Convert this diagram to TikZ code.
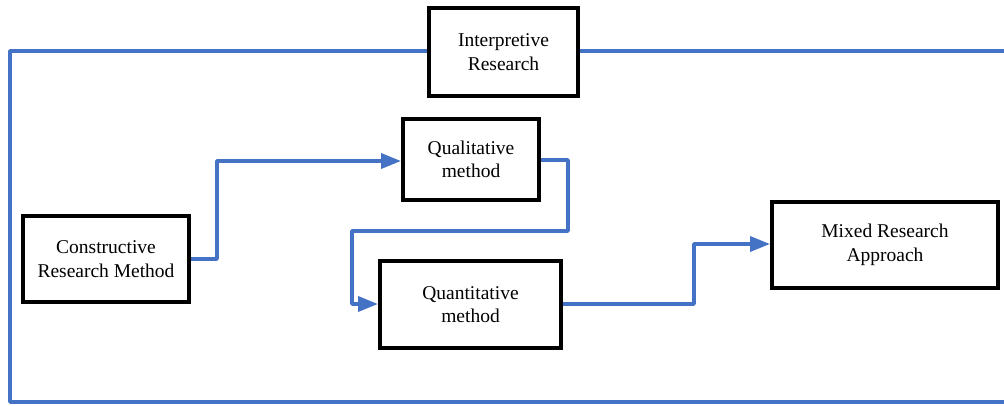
\documentclass[tikz,border=0pt]{standalone}
\usepackage{fontspec}
\setmainfont{Liberation Serif}
\usetikzlibrary{arrows.meta}
\definecolor{flowblue}{HTML}{4472C4}
\tikzset{
  stage/.style={draw=black, line width=4pt, fill=white, align=center, inner sep=0pt,
    font=\fontsize{19.5}{23.5}\selectfont},
  flow/.style={draw=flowblue, line width=3.6pt, line join=round},
  flowarrow/.style={flow, -{Triangle[length=20pt, width=15pt]}},
}
\begin{document}
\begin{tikzpicture}[x=1pt, y=-1pt]
  \useasboundingbox (0,0) rectangle (1004,405);
  % stage boxes
  \node[stage, minimum width=149pt, minimum height=88pt] (interp) at (503.5,52) {Interpretive\\Research};
  \node[stage, minimum width=136pt, minimum height=81pt] (qual) at (471,159.5) {Qualitative\\method};
  \node[stage, minimum width=166pt, minimum height=86pt] (constr) at (106,259) {Constructive\\Research Method};
  \node[stage, minimum width=181pt, minimum height=87pt] (quant) at (470.5,304.5) {Quantitative\\method};
  \node[stage, minimum width=226pt, minimum height=86pt] (mixed) at (885,245) {Mixed Research\\Approach};
  % open frame around everything, broken by the top box
  \coordinate (frameR1) at (1004,51);
  \coordinate (frameR2) at (1004,402);
  \draw[flow] (interp.west |- 0,51) -- (10,51) -- (10,402) -- (frameR2);
  \draw[flow] (interp.east |- 0,51) -- (frameR1);
  % process flow
  \draw[flowarrow] (constr.east |- 0,259) -- (217,259) -- (217,161) -- (qual.west |- 0,161);
  \draw[flowarrow] (qual.east |- 0,160) -- (568,160) -- (568,231) -- (352,231) -- (352,304) -- (quant.west |- 0,304);
  \draw[flowarrow] (quant.east |- 0,304) -- (694,304) -- (694,244) -- (mixed.west |- 0,244);
\end{tikzpicture}
\end{document}
